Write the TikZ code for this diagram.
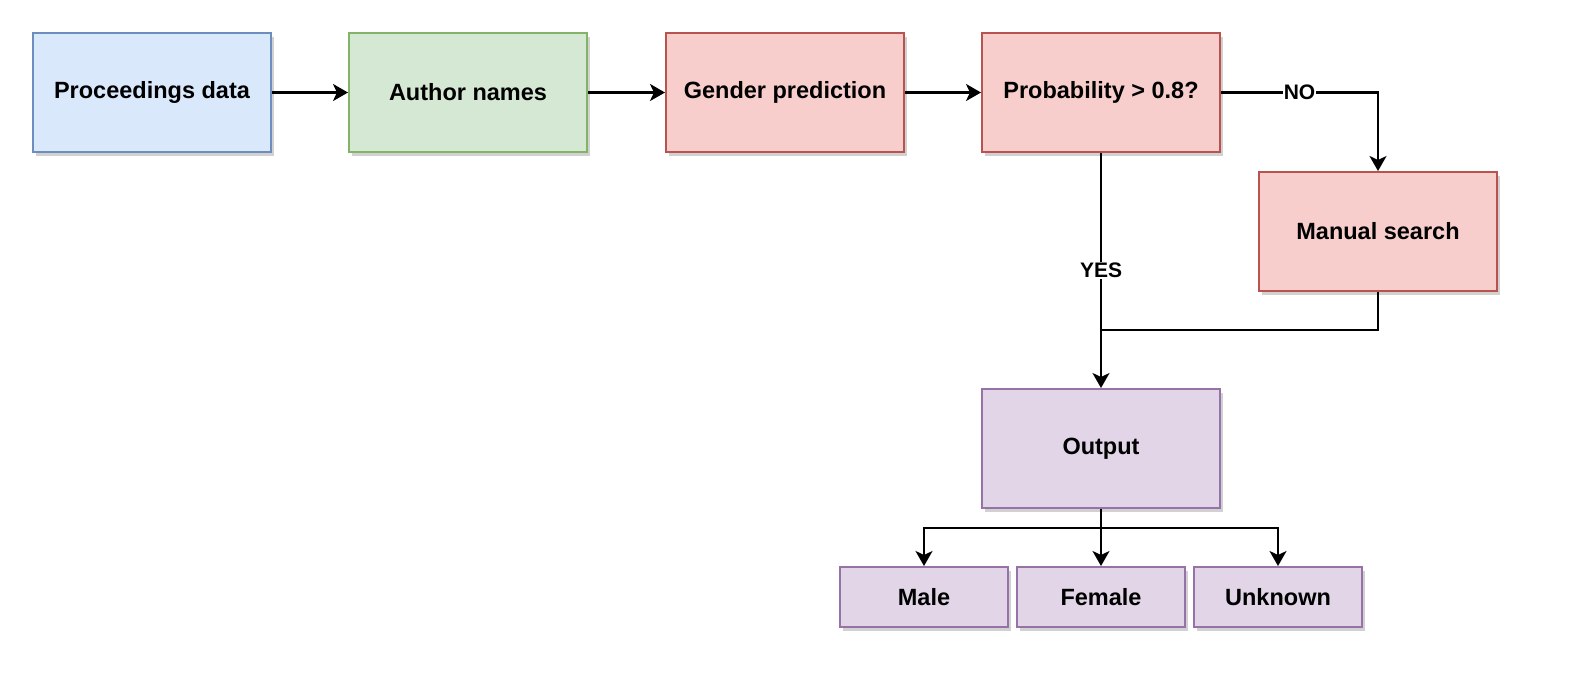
\documentclass[tikz,border=0pt]{standalone}
\usepackage{fontspec}
\setmainfont{Liberation Sans}
\usetikzlibrary{arrows.meta,shadows}
\definecolor{bfill}{HTML}{DAE8FC}\definecolor{bline}{HTML}{6C8EBF}
\definecolor{gfill}{HTML}{D5E8D4}\definecolor{gline}{HTML}{82B366}
\definecolor{rfill}{HTML}{F8CECC}\definecolor{rline}{HTML}{B85450}
\definecolor{pfill}{HTML}{E1D5E7}\definecolor{pline}{HTML}{9673A6}
\tikzset{
  box/.style={draw, line width=2pt, minimum width=238pt, minimum height=119pt, inner sep=0pt,
    font=\fontsize{23.5}{28}\selectfont\bfseries,
    drop shadow={shadow xshift=3pt, shadow yshift=-4pt, opacity=0.18, fill=black}},
  smallbox/.style={box, minimum width=168pt, minimum height=60pt},
  bluebox/.style={box, fill=bfill, draw=bline},
  greenbox/.style={box, fill=gfill, draw=gline},
  redbox/.style={box, fill=rfill, draw=rline},
  purplebox/.style={box, fill=pfill, draw=pline},
  purplesmall/.style={smallbox, fill=pfill, draw=pline},
  conn/.style={line width=2.2pt, -{Stealth[length=15pt, width=17pt, inset=4pt]}},
  plainconn/.style={line width=2.2pt},
  edgelabel/.style={fill=white, inner sep=1pt, font=\fontsize{21}{24}\selectfont\bfseries}
}
\begin{document}
\begin{tikzpicture}[x=1pt,y=-1pt]
\useasboundingbox (0,0) rectangle (1586,686);
\node[bluebox] (pd) at (152,92.5) {Proceedings data};
\node[greenbox] (an) at (468,92.5) {Author names};
\node[redbox] (gp) at (785,92.5) {Gender prediction};
\node[redbox] (pr) at (1101,92.5) {Probability > 0.8?};
\node[redbox] (ms) at (1378,231.5) {Manual search};
\node[purplebox] (out) at (1101,448.5) {Output};
\node[purplesmall] (male) at (924,597) {Male};
\node[purplesmall] (female) at (1101,597) {Female};
\node[purplesmall] (unk) at (1278,597) {Unknown};
\coordinate (j) at (1101,330);
\coordinate (ob) at (1101,528);
\draw[conn] (pd) -- (an);
\draw[conn] (an) -- (gp);
\draw[conn] (gp) -- (pr);
\draw[conn] (pr.east) -| node[edgelabel, pos=0.25] {NO} (ms.north);
\draw[conn] (pr.south) -- node[edgelabel, pos=0.5] {YES} (out.north);
\draw[plainconn] (ms.south) |- (j);
\draw[plainconn] (out.south) -- (ob);
\draw[conn] (ob) -| (male.north);
\draw[conn] (ob) -- (female.north);
\draw[conn] (ob) -| (unk.north);
\end{tikzpicture}
\end{document}
